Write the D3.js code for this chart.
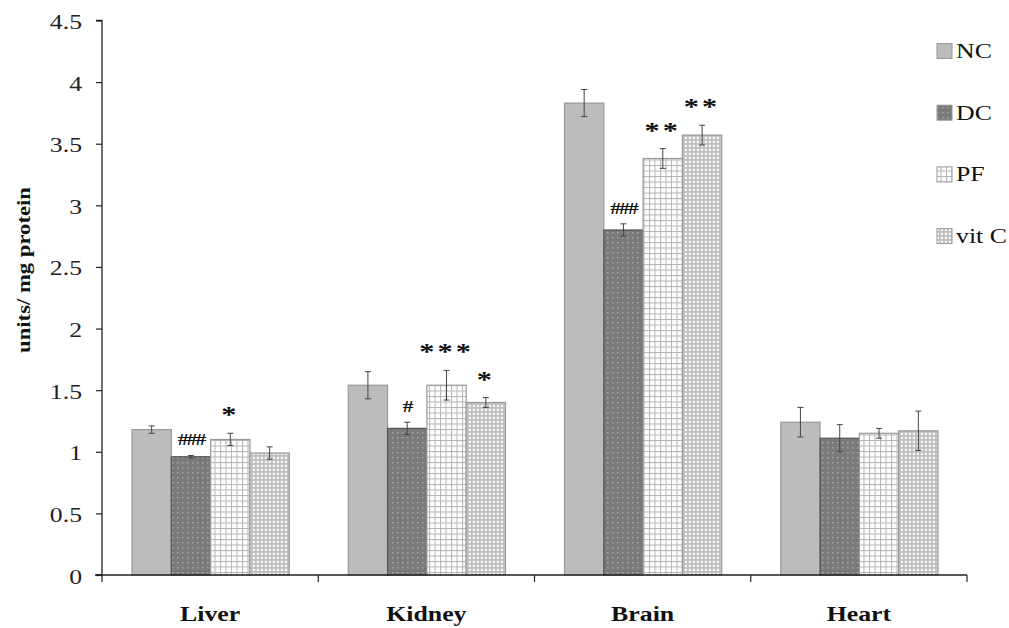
<!DOCTYPE html>
<html><head><meta charset="utf-8">
<script src="https://cdn.jsdelivr.net/npm/d3@7"></script>
<style>body{margin:0;background:#fff}svg{display:block}</style>
</head><body><svg id="c" width="1009" height="628"></svg>
<script>
const categories = ["Liver","Kidney","Brain","Heart"];
const seriesNames = ["NC","DC","PF","vit C"];
const NC   = [1.18, 1.54, 3.83, 1.24];
const DC   = [0.96, 1.19, 2.80, 1.11];
const PF   = [1.10, 1.54, 3.38, 1.15];
const VITC = [0.99, 1.40, 3.57, 1.17];
const NC_err   = [0.03, 0.11, 0.11, 0.12];
const DC_err   = [0.01, 0.05, 0.05, 0.11];
const PF_err   = [0.05, 0.12, 0.08, 0.04];
const VITC_err = [0.05, 0.04, 0.08, 0.16];
const NC_sig   = ["", "", "", ""];
const DC_sig   = ["###", "#", "###", ""];
const PF_sig   = ["*", "***", "**", ""];
const VITC_sig = ["", "*", "**", ""];
const yTicks = [0,0.5,1,1.5,2,2.5,3,3.5,4,4.5];
const yTitle = "units/ mg protein";

const series = [
  {name:seriesNames[0], vals:NC, err:NC_err, sig:NC_sig, fill:"url(#pNC)"},
  {name:seriesNames[1], vals:DC, err:DC_err, sig:DC_sig, fill:"url(#pDC)"},
  {name:seriesNames[2], vals:PF, err:PF_err, sig:PF_sig, fill:"url(#pPF)"},
  {name:seriesNames[3], vals:VITC, err:VITC_err, sig:VITC_sig, fill:"url(#pVC)"}
];

const svg = d3.select("#c");
const font = "'Liberation Serif','Times New Roman',serif";
const SX = 1.26;
const L=102, R=967, T=20.5, B=575;

// patterns
const defs = svg.append("defs");
let p = defs.append("pattern").attr("id","pNC").attr("patternUnits","userSpaceOnUse").attr("width",4).attr("height",4);
p.append("rect").attr("width",4).attr("height",4).attr("fill","#bcbcbc");
p = defs.append("pattern").attr("id","pDC").attr("patternUnits","userSpaceOnUse").attr("width",5).attr("height",5);
p.append("rect").attr("width",5).attr("height",5).attr("fill","#7a7a7a");
p.append("rect").attr("x",2).attr("y",2).attr("width",1.5).attr("height",1.5).attr("fill","#a8a8a8");
p = defs.append("pattern").attr("id","pPF").attr("patternUnits","userSpaceOnUse").attr("width",5.5).attr("height",5.5);
p.append("rect").attr("width",5.5).attr("height",5.5).attr("fill","#ffffff");
p.append("rect").attr("width",5.5).attr("height",1).attr("fill","#b4b4b4");
p.append("rect").attr("width",1).attr("height",5.5).attr("fill","#b4b4b4");
p = defs.append("pattern").attr("id","pVC").attr("patternUnits","userSpaceOnUse").attr("width",4).attr("height",4);
p.append("rect").attr("width",4).attr("height",4).attr("fill","#c0c0c0");
p.append("rect").attr("x",0.8).attr("y",0.8).attr("width",2.2).attr("height",2.2).attr("fill","#f6f6f6");

const x0 = d3.scaleBand().domain(categories).range([L,R]).paddingInner(0).paddingOuter(0);
const x1 = d3.scaleBand().domain(seriesNames).range([30, x0.bandwidth()-29]);
const y = d3.scaleLinear().domain([0,4.5]).range([B,T]);

function stext(parent, x, yy, str, size, anchor, bold, rot, sx){
  return parent.append("text")
    .attr("transform",`translate(${x},${yy})${rot?" rotate(-90)":""} scale(${sx||SX},1)`)
    .attr("text-anchor",anchor).attr("font-family",font).attr("font-size",size)
    .attr("font-weight",bold?"bold":"normal").attr("fill","#111").text(str);
}

// bars
const g = svg.append("g");
series.forEach(s=>{
  categories.forEach((c,i)=>{
    const bx = x0(c)+x1(s.name), bw = x1.bandwidth();
    g.append("rect").attr("x",bx).attr("y",y(s.vals[i])).attr("width",bw).attr("height",B-y(s.vals[i]))
      .attr("fill",s.fill).attr("stroke",s.name==="DC"?"#555":"#999").attr("stroke-width",1.2);
    const cx = bx+bw/2;
    const e = svg.append("g").attr("stroke","#444").attr("stroke-width",1);
    e.append("line").attr("x1",cx).attr("x2",cx).attr("y1",y(s.vals[i]+s.err[i])).attr("y2",y(s.vals[i]-s.err[i]));
    e.append("line").attr("x1",cx-3).attr("x2",cx+3).attr("y1",y(s.vals[i]+s.err[i])).attr("y2",y(s.vals[i]+s.err[i]));
    e.append("line").attr("x1",cx-3).attr("x2",cx+3).attr("y1",y(s.vals[i]-s.err[i])).attr("y2",y(s.vals[i]-s.err[i]));
    const sg = s.sig[i];
    if(sg){
      const isHash = sg[0]==="#";
      const t = stext(svg, cx, y(s.vals[i]+s.err[i])-(isHash?10:11), sg, isHash?17:24, "middle", true, false);
      t.attr("letter-spacing",isHash?-1.5:2.5);
    }
  });
});

// y axis
const ya = svg.append("g").attr("transform",`translate(${L},0)`)
  .call(d3.axisLeft(y).tickValues(yTicks).tickSize(6).tickPadding(12).tickFormat(d=>String(d)));
ya.select(".domain").attr("stroke","#222").attr("stroke-width",1.3).attr("d",`M-6,${T}H0V${B}H-6`);
ya.selectAll(".tick line").attr("stroke","#222").attr("stroke-width",1.2);
ya.selectAll(".tick text").attr("font-family",font).attr("font-size",22).attr("fill","#222")
  .attr("x",0).attr("transform",`translate(-20,1) scale(1.17,1)`);

// x axis
const xa = svg.append("g").attr("transform",`translate(0,${B})`);
xa.append("line").attr("x1",L-7).attr("x2",R).attr("y1",0).attr("y2",0).attr("stroke","#222").attr("stroke-width",1.5);
const bounds = categories.map(c=>x0(c)).concat([R]);
xa.selectAll(".xt").data(bounds).enter().append("line")
  .attr("x1",d=>d).attr("x2",d=>d).attr("y1",0).attr("y2",7).attr("stroke","#222").attr("stroke-width",1.2);
categories.forEach(c=>stext(xa, x0(c)+x0.bandwidth()/2, 46, c, 20.5, "middle", true, false));

// y title
stext(svg, 30, 270, yTitle, 18, "middle", true, true);

// legend
const lg = svg.append("g");
series.forEach((s,i)=>{
  const cy = 51 + i*61.7;
  lg.append("rect").attr("x",937).attr("y",cy-7.5).attr("width",15).attr("height",15)
    .attr("fill",s.fill).attr("stroke","#999").attr("stroke-width",1);
  stext(lg, 956, cy+7, s.name, 20.5, "start", false, false);
});
</script></body></html>
